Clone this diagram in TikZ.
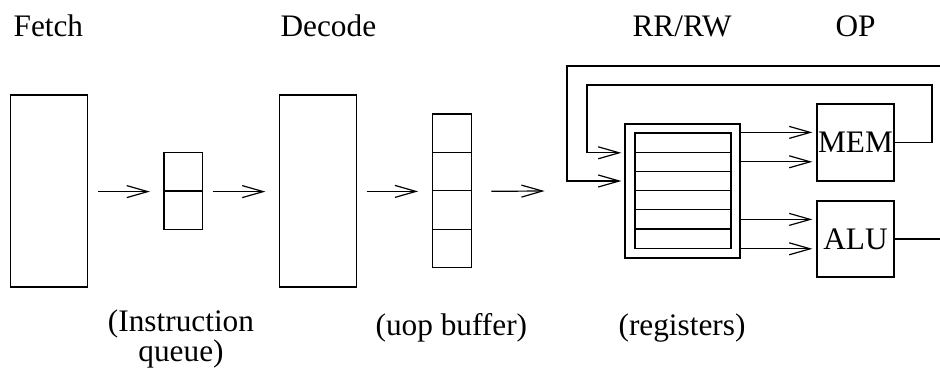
\documentclass[tikz,border=0pt]{standalone}
\usepackage{fontspec}
\setmainfont{Liberation Serif}
\usetikzlibrary{arrows.meta, positioning}

\begin{document}
\begin{tikzpicture}[x=1pt, y=-1pt, line width=1.2pt,
    >={Straight Barb[length=21pt, width=12pt]},
    font=\fontsize{31.3}{27}\selectfont,
    stagebox/.style={draw, inner sep=0pt, minimum width=77pt, minimum height=192pt},
    qcell/.style={draw, inner sep=0pt, minimum width=38.6pt, minimum height=38.4pt},
    regcell/.style={draw, inner sep=0pt, minimum width=96pt, minimum height=19.2pt},
    unit/.style={draw, inner sep=0pt, minimum width=77pt, minimum height=77pt},
    lbl/.style={anchor=base west, inner sep=0pt}]
  \useasboundingbox (0,0) rectangle (940,375);

  % Stage names
  \node[lbl] (tfetch) at (13,36) {Fetch};
  \node[lbl] (tdecode) at (280,36) {Decode};
  \node[lbl] (trr) at (632,36) {RR/RW};
  \node[lbl] (top) at (835,36) {OP};

  % Fetch, instruction queue, decode, uop buffer
  \node[stagebox] (fetch) at (49.3,191) {};
  \foreach \i in {1,2}
    \node[qcell] (q\i) at (183.3, 133.4+38.4*\i) {};
  \node[stagebox] (decode) at (318,191) {};
  \foreach \i in {1,...,4}
    \node[qcell] (uop\i) at (452, 94.8+38.4*\i) {};
  \coordinate (rfin) at (544.6,191);

  % Register file
  \node[draw, inner sep=0pt, minimum width=115pt, minimum height=134pt] (rf) at (682.5,191) {};
  \foreach \i in {1,...,6}
    \node[regcell] (reg\i) at (683, 123.4+19.2*\i) {};

  % Execution units
  \node[unit] (mem) at (855.5,142.5) {MEM};
  \node[unit, minimum height=76pt] (alu) at (855.5,239) {ALU};

  % Pipeline arrows
  \draw[->, shorten <=9.5pt, shorten >=13.5pt] (fetch.east |- q1.south) -- (q1.south west);
  \draw[->, shorten <=9.5pt, shorten >=13.5pt] (q1.south east) -- (decode.west |- q1.south);
  \draw[->, shorten <=9.5pt, shorten >=14pt] (decode.east |- uop2.south) -- (uop2.south west);
  \draw[->, shorten <=19.5pt] (uop2.south east) -- (rfin);

  % Operands out to the units
  \draw[->, shorten >=4pt] (rf.east |- reg1.north) -- (mem.west |- reg1.north);
  \draw[->, shorten >=4pt] (rf.east |- reg2) -- (mem.west |- reg2);
  \draw[->, shorten >=4pt] (rf.east |- reg5) -- (alu.west |- reg5);
  \draw[->, shorten >=4pt] (rf.east |- reg6.south) -- (alu.west |- reg6.south);

  % Write-back loops
  \coordinate (inA) at (932,85);
  \coordinate (inB) at (587,85);
  \coordinate (outA) at (940,66);
  \coordinate (outB) at (567,66);
  \coordinate (aluout) at (940,239);
  \draw[->, shorten >=3pt] (mem.east) -| (inA) -- (inB) |- (rf.west |- reg1.south);
  \draw[->, shorten >=3pt] (outA) -- (outB) |- (rf.west |- reg3);
  \draw (alu.east) -- (aluout);

  % Buffer names
  \node[anchor=base, align=center, inner sep=0pt] (tqueue) at (181,361) {(Instruction\\queue)};
  \node[lbl] (tuop) at (375,335) {(uop buffer)};
  \node[lbl] (treg) at (618,335) {(registers)};
\end{tikzpicture}
\end{document}
